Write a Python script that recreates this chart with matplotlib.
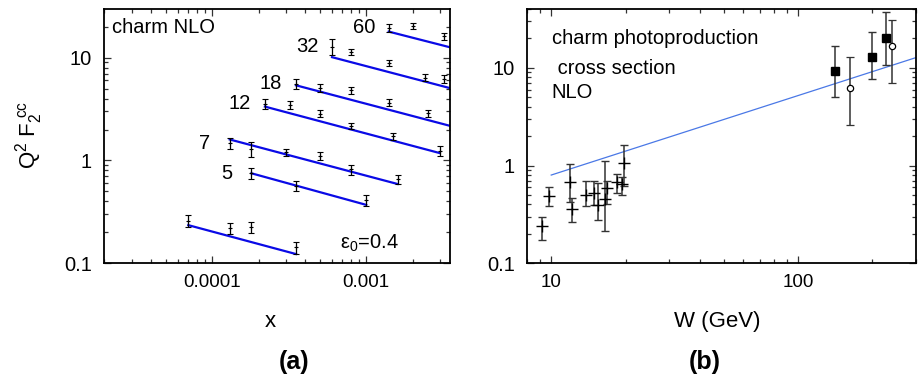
import numpy as np
import matplotlib
matplotlib.use("Agg")
import matplotlib.pyplot as plt
from matplotlib.ticker import FixedLocator, FixedFormatter, LogLocator, NullFormatter

plt.rcParams['font.family'] = ['Liberation Sans', 'DejaVu Sans']
plt.rcParams['mathtext.fontset'] = 'custom'
plt.rcParams['mathtext.rm'] = 'Liberation Sans'
plt.rcParams['mathtext.it'] = 'Liberation Sans'
plt.rcParams['mathtext.bf'] = 'Liberation Sans:bold'

# ---------------- (a) charm structure function, Q^2 F2^cc vs x ----------------
q2_labels = ["", "5", "7", "12", "18", "32", "60"]

x_data = [
    [7.0e-5, 1.3e-4, 1.8e-4, 3.5e-4],
    [1.8e-4, 3.5e-4, 1.0e-3],
    [1.3e-4, 1.8e-4, 3.0e-4, 5.0e-4, 8.0e-4, 1.6e-3],
    [2.2e-4, 3.2e-4, 5.0e-4, 8.0e-4, 1.5e-3, 3.0e-3],
    [3.5e-4, 5.0e-4, 8.0e-4, 1.4e-3, 2.5e-3],
    [6.0e-4, 8.0e-4, 1.4e-3, 2.4e-3, 3.2e-3],
    [1.4e-3, 2.0e-3, 3.2e-3],
]
f2_data = [
    [0.26, 0.22, 0.225, 0.143],
    [0.75, 0.57, 0.41],
    [1.47, 1.30, 1.20, 1.11, 0.82, 0.66],
    [3.57, 3.44, 2.86, 2.17, 1.73, 1.24],
    [5.6, 5.1, 4.8, 3.66, 2.88],
    [12.8, 11.3, 8.8, 6.4, 6.2],
    [19.5, 20.5, 16.2],
]
f2_err = [
    [0.034, 0.029, 0.029, 0.019],
    [0.09, 0.06, 0.05],
    [0.19, 0.21, 0.10, 0.09, 0.09, 0.07],
    [0.39, 0.31, 0.23, 0.15, 0.14, 0.14],
    [0.62, 0.46, 0.34, 0.26, 0.23],
    [2.3, 0.8, 0.6, 0.5, 0.56],
    [1.8, 1.4, 1.3],
]
# NLO curves (eps0 = 0.4): end points of each power-law line
nlo_x = [
    [7.0e-5, 3.5e-4],
    [1.8e-4, 1.0e-3],
    [1.3e-4, 1.6e-3],
    [2.2e-4, 3.0e-3],
    [3.5e-4, 3.5e-3],
    [6.0e-4, 3.5e-3],
    [1.4e-3, 3.5e-3],
]
nlo_f2 = [
    [0.235, 0.123],
    [0.75, 0.37],
    [1.60, 0.59],
    [3.34, 1.18],
    [5.38, 2.17],
    [10.1, 5.05],
    [17.9, 12.6],
]

# ---------------- (b) charm photoproduction cross section vs W ----------------
w_low = [9.2, 9.75, 11.9, 12.1, 13.8, 14.9, 15.4, 16.5, 16.9, 18.5, 19.4, 19.8]
sig_low = [0.242, 0.483, 0.676, 0.361, 0.502, 0.53, 0.397, 0.453, 0.587, 0.687, 0.645, 1.06]
sig_low_lo = [0.172, 0.382, 0.419, 0.262, 0.382, 0.391, 0.275, 0.212, 0.406, 0.522, 0.502, 0.62]
sig_low_hi = [0.30, 0.597, 1.04, 0.464, 0.703, 0.703, 0.671, 1.12, 0.703, 0.822, 0.76, 1.61]

w_sq = [141.7, 200.0, 228.0]
sig_sq = [9.18, 12.9, 20.4]
sig_sq_lo = [5.06, 7.6, 10.6]
sig_sq_hi = [16.8, 23.3, 37.3]

w_circ = [162.0, 241.0]
sig_circ = [6.25, 16.9]
sig_circ_lo = [2.58, 6.92]
sig_circ_hi = [12.9, 30.6]

nlo_w = [10.0, 300.0]
nlo_sig = [0.80, 12.7]

fig = plt.figure(figsize=(9.19, 3.81), dpi=100)
ax1 = fig.add_axes([0.1137, 0.3089, 0.3760, 0.6675])
ax2 = fig.add_axes([0.5738, 0.3089, 0.4226, 0.6675])

xtick_fs = 13.5
ytick_fs = 14.5
txt_fs = 14.5
lab_fs = 16

for xs, ys, es in zip(x_data, f2_data, f2_err):
    ax1.errorbar(xs, ys, yerr=es, fmt='+', color='black', ms=3, mew=0.8,
                 elinewidth=0.9, capsize=2, capthick=0.9, zorder=3)
for xs, ys in zip(nlo_x, nlo_f2):
    ax1.plot(xs, ys, color='#0a0ae6', lw=1.6, zorder=2)
for lab, xs, ys in zip(q2_labels, x_data, f2_data):
    if lab:
        ax1.text(xs[0] / 1.45, ys[0], lab, fontsize=txt_fs, ha='center', va='center')

ax1.set_xscale('log')
ax1.set_yscale('log')
ax1.set_xlim(2.0e-5, 3.5e-3)
ax1.set_ylim(0.1, 29.7)
ax1.text(0.021, 0.928, 'charm NLO', transform=ax1.transAxes, fontsize=txt_fs,
         ha='left', va='center')
ax1.text(0.766, 0.08, r'$\mathregular{\varepsilon_0}$=0.4', transform=ax1.transAxes,
         fontsize=txt_fs, ha='center', va='center')

left_xticks = [1e-4, 1e-3]
left_xticklabels = ['0.0001', '0.001']
yticks = [0.1, 1, 10]
yticklabels = ['0.1', '1', '10']

ax1.xaxis.set_major_locator(FixedLocator(left_xticks))
ax1.xaxis.set_major_formatter(FixedFormatter(left_xticklabels))

# (b)
ax2.errorbar(w_low, sig_low,
             yerr=[np.subtract(sig_low, sig_low_lo), np.subtract(sig_low_hi, sig_low)],
             fmt='+', color='black', ecolor='#333333', ms=8, mew=1.0,
             elinewidth=1.1, capsize=3, capthick=1.0, zorder=3)
ax2.errorbar(w_sq, sig_sq,
             yerr=[np.subtract(sig_sq, sig_sq_lo), np.subtract(sig_sq_hi, sig_sq)],
             fmt='s', color='black', ecolor='#333333', ms=5.5,
             elinewidth=1.1, capsize=3, capthick=1.0, zorder=3)
ax2.errorbar(w_circ, sig_circ,
             yerr=[np.subtract(sig_circ, sig_circ_lo), np.subtract(sig_circ_hi, sig_circ)],
             fmt='o', color='black', mfc='white', ecolor='#333333', ms=4.5, mew=0.9,
             elinewidth=1.1, capsize=3, capthick=1.0, zorder=3)
ax2.plot(nlo_w, nlo_sig, color='#4a78e6', lw=0.9, zorder=2)

ax2.set_xscale('log')
ax2.set_yscale('log')
ax2.set_xlim(8.0, 300.0)
ax2.set_ylim(0.1, 40.0)
ax2.text(0.063, 0.885, 'charm photoproduction', transform=ax2.transAxes,
         fontsize=txt_fs, ha='left', va='center')
ax2.text(0.063, 0.767, ' cross section', transform=ax2.transAxes,
         fontsize=txt_fs, ha='left', va='center')
ax2.text(0.063, 0.671, 'NLO', transform=ax2.transAxes,
         fontsize=txt_fs, ha='left', va='center')

right_xticks = [10, 100]
right_xticklabels = ['10', '100']
ax2.xaxis.set_major_locator(FixedLocator(right_xticks))
ax2.xaxis.set_major_formatter(FixedFormatter(right_xticklabels))

for ax in (ax1, ax2):
    ax.yaxis.set_major_locator(FixedLocator(yticks))
    ax.yaxis.set_major_formatter(FixedFormatter(yticklabels))
    ax.xaxis.set_minor_locator(LogLocator(base=10, subs=np.arange(2, 10), numticks=20))
    ax.yaxis.set_minor_locator(LogLocator(base=10, subs=np.arange(2, 10), numticks=20))
    ax.xaxis.set_minor_formatter(NullFormatter())
    ax.yaxis.set_minor_formatter(NullFormatter())
    ax.tick_params(which='both', direction='in', top=True, right=True,
                   width=0.9, color='#333333')
    ax.tick_params(axis='x', labelsize=xtick_fs, pad=8)
    ax.tick_params(axis='y', labelsize=ytick_fs, pad=9)
    ax.tick_params(which='major', length=5)
    ax.tick_params(which='minor', length=3)
    for sp in ax.spines.values():
        sp.set_linewidth(1.3)

fig.text(0.0316, 0.646, r'$\mathregular{Q^2\ F_2^{\ cc}}$', rotation=90,
         fontsize=lab_fs, ha='center', va='center')
fig.text(0.2943, 0.155, 'x', fontsize=lab_fs, ha='center', va='center')
fig.text(0.781, 0.155, 'W (GeV)', fontsize=lab_fs, ha='center', va='center')
fig.text(0.32, 0.05, '(a)', fontsize=18, fontweight='bold', ha='center', va='center')
fig.text(0.767, 0.05, '(b)', fontsize=18, fontweight='bold', ha='center', va='center')

fig.savefig('out.png', dpi=100)
